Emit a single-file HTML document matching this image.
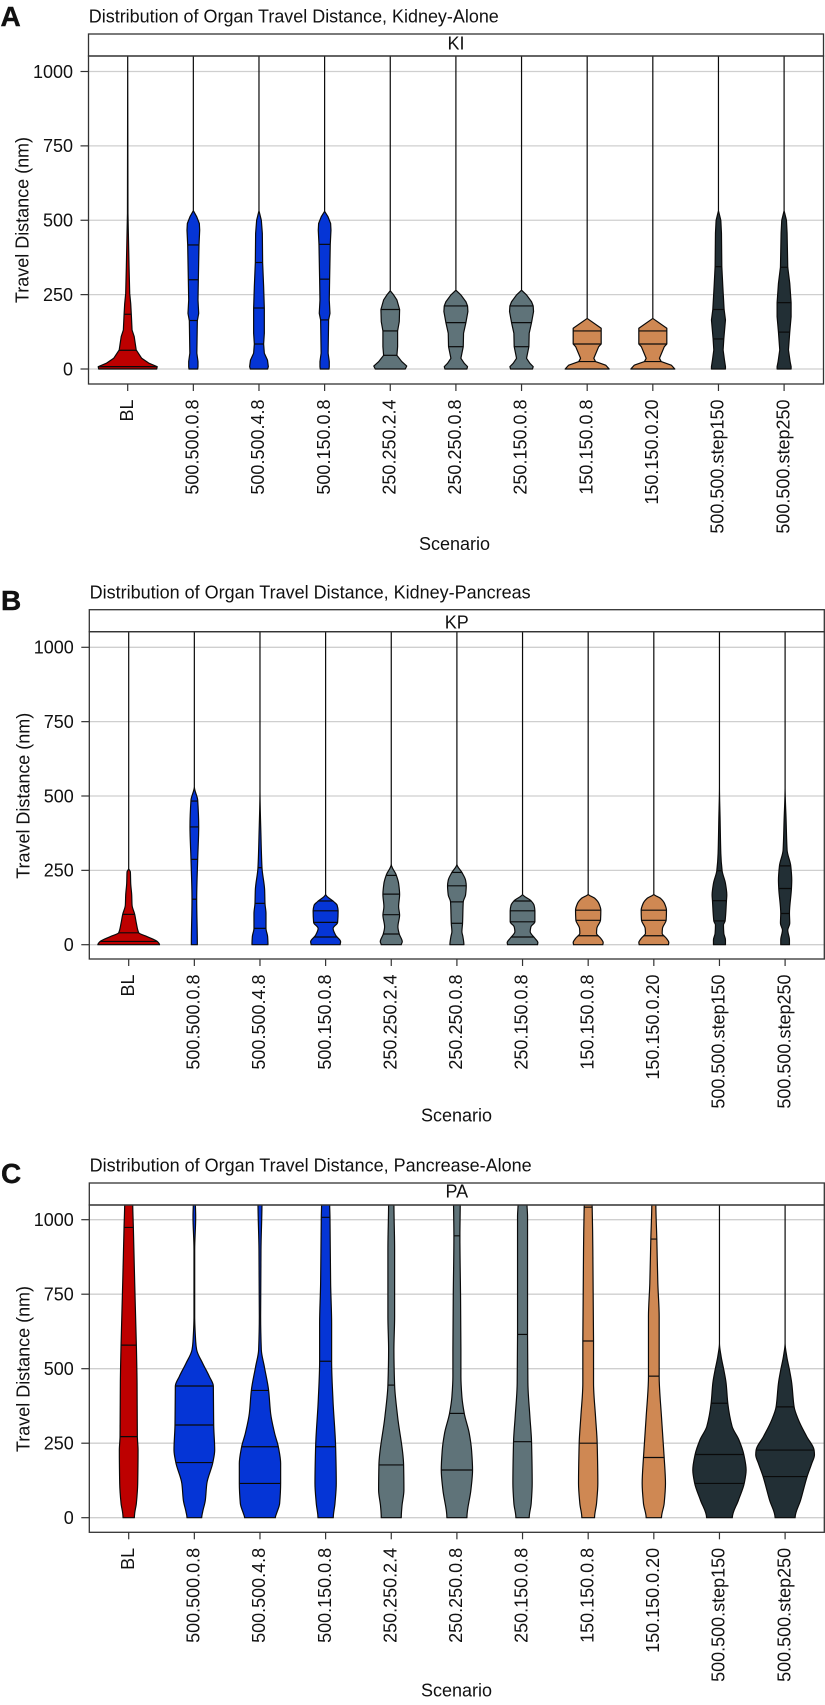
<!DOCTYPE html>
<html lang="en">
<head>
<meta charset="utf-8">
<title>Distribution of Organ Travel Distance</title>
<style>
html,body{margin:0;padding:0;background:#fff;}
svg{display:block;}
text{font-family:"Liberation Sans",Arial,sans-serif;fill:#111;}
</style>
</head>
<body>
<svg id="chart" width="825" height="1705" viewBox="0 0 825 1705" xmlns="http://www.w3.org/2000/svg"></svg>
<script>
const scenarios = ["BL","500.500.0.8","500.500.4.8","500.150.0.8","250.250.2.4","250.250.0.8","250.150.0.8","150.150.0.8","150.150.0.20","500.500.step150","500.500.step250"];
const yTicks = [0,250,500,750,1000];
const scenarioGroup = [0,1,1,1,2,2,2,3,3,4,4];
const groupColors = ["#bd0000","#0535d6","#5f7379","#cf8853","#222f35"];

const kiDistance = [
 [1060,523,344,254,220,181,131,109,64,36,19,8,0],
 [1060,532,512,489,467,417,299,232,187,162,53,25,8,0],
 [1060,532,500,456,358,277,204,120,84,53,30,8,0],
 [1060,530,512,489,467,419,302,232,187,165,53,25,8,0],
 [1060,263,249,232,200,159,128,75,46,25,10,0],
 [1060,265,249,226,212,193,156,120,75,36,19,8,0],
 [1060,265,249,226,212,193,156,120,75,36,19,8,0],
 [1060,170,137,128,84,75,36,25,13,0],
 [1060,170,137,128,84,75,36,25,13,0],
 [1060,532,500,456,344,277,200,165,101,64,30,8,0],
 [1060,532,500,456,342,288,223,176,124,64,25,8,0]
];
const kiDensity = [
 [0,0.5,2.7,4,6,7.3,8.7,13,17,28,43,59,58],
 [0,0,6.7,12,12.7,11.3,10,9.3,10.7,8,7,9.3,9.3,8.7],
 [0,0,4.7,6.7,7.3,9.3,10.7,10.7,9.3,10.7,17,18.7,17.3],
 [0,0,6.7,12,12.7,11.3,10,9.3,10.7,8,7,9.3,9.3,8.7],
 [0,0,6.7,13.3,18.7,18,14.7,14.7,13.3,23,33,30],
 [0,0,10,20,23.3,24,20,15.3,14.7,10,16.7,23.3,22],
 [0,0,10,20,23.3,24,20,15.3,14.7,10,16.7,23.3,22],
 [0,0,28,28,28,23,13.3,16.7,37,44],
 [0,0,28,28,28,23,13.3,16.7,37,44],
 [0,0,4.7,6,6.7,8.7,11.3,14,10.7,9.3,12,14,14],
 [0,0,4.7,6,7.3,11.3,14,14,11.3,8.7,12,14,14]
];
const kiQuartiles = [
 [184,63,8],[417,300,163],[358,205,84],[419,302,165],[200,128,46],[212,156,75],[212,156,75],[128,84,25],[128,84,25],[344,200,101],[342,223,124]
];

const kpDistance = [
 [1060,256,245,206,167,133,102,72,40,27,11,0],
 [1060,531,486,396,287,153,0],
 [1060,525,363,259,184,139,105,55,27,0],
 [1060,170,144,133,114,75,55,32,10,0],
 [1060,271,234,206,169,128,100,60,36,10,0],
 [1060,271,243,217,198,167,144,72,44,27,0],
 [1060,170,148,133,114,77,60,44,21,7,0],
 [1060,170,156,139,116,83,55,38,21,7,0],
 [1060,170,156,139,116,83,55,38,21,7,0],
 [1060,531,419,307,249,206,167,148,80,66,38,16,0],
 [1060,531,419,318,265,217,189,105,72,49,16,0]
];
const kpDensity = [
 [0,0,3.3,4,6,6.7,12,15.3,20,37,57,61.7],
 [0,0,6.7,8.7,6.7,4.7,6],
 [0,0,2,4,9.3,10,12,12,15.3,16],
 [0,0,16.7,23,25,24,15,20,30,29],
 [0,0,10,14.7,16.7,14.7,16.7,13.3,16,22,20],
 [0,0,10,17.3,18.7,17.3,12.7,11.3,10,12,14],
 [0,0,16.7,23,24.7,24.7,16.7,15.3,25,30.7,30],
 [0,0,13.3,21.3,25.3,24.7,17.3,16.7,25.3,30,29.3],
 [0,0,13.3,21.3,25.3,24.7,17.3,16.7,25.3,30,29.3],
 [0,0,1.3,2.7,5.3,12,14.7,14,11.3,8,8.7,12,12],
 [0,0,2,4,11.3,13.3,12.7,8.7,9.3,5.3,8.7,8.7]
];
const kpQuartiles = [
 [102,40,11],[483,396,287,153],[259,139,55],[147,114,75,26],[233,170,101,36],[243,198,144,72],[147,114,77,26],[116,82,30],[116,82,30],[249,148,80],[265,189,105]
];

const paDistance = [
 [1060,974,787,579,451,272,227,115,48,15,0],
 [1060,1010,899,675,591,563,518,474,442,311,227,185,115,59,20,0],
 [1060,899,675,563,507,427,350,283,238,182,115,48,15,0],
 [1060,1008,787,652,525,395,238,115,48,0],
 [1060,899,675,563,445,339,177,93,37,0],
 [1060,946,741,563,474,406,350,283,227,160,93,0],
 [1060,1010,787,615,451,339,255,115,48,0],
 [1060,1042,899,593,451,339,250,115,48,0],
 [1060,935,787,675,475,339,202,115,48,0],
 [1060,586,541,496,451,384,306,262,212,160,115,59,0],
 [1060,586,541,496,451,372,328,272,227,211,182,138,59,0]
];
const paDensity = [
 [8,9.3,12,15.3,16.7,17.3,18.7,18,15.3,12,11.3],
 [2,2.7,0.7,0.7,2.7,4.7,16.7,30,38,38.7,40.7,37,25,22,16.7,14.7],
 [4,2,1.3,2.7,8.7,17.3,21.3,29.3,36.7,41.3,41.3,39.3,33.3,30.7],
 [8,8.7,10,12,12,14.7,20,21.3,18.7,15.3],
 [5.3,6.7,6.7,5.3,6.7,12.7,24.7,25.3,21.3,20],
 [6.7,6,7.3,8,8,10,14.7,24.7,29.3,31.3,28,20],
 [8.7,10,10,10,10.7,14.7,18,19.3,17.3,13.3],
 [7.3,8,9.3,10.7,10.7,14.7,18,19.3,16.7,12.7],
 [4,6,8,10.7,10.7,15.3,20.7,23.3,20.7,15.3],
 [0,0,3.3,8.7,13.3,16.7,25.3,38.7,48.7,53.3,49.5,38,25.7],
 [0,0,3.3,8.7,13.3,18,26.7,43.3,58,58.7,53.3,44,31,20]
];
const paQuartiles = [
 [974,579,272],[442,311,185],[427,238,115],[1008,525,238],[445,177],[946,350,160],[615,255],[1042,593,250],[935,475,202],[384,212,115],[372,227,138]
];

const svg = document.getElementById('chart');
const NS = 'http://www.w3.org/2000/svg';

function make(tag, attrs, parent, text) {
  const e = document.createElementNS(NS, tag);
  for (const k in attrs) e.setAttribute(k, attrs[k]);
  if (text !== undefined) e.textContent = text;
  parent.appendChild(e);
  return e;
}

function densityAt(value, dist, dens) {
  for (let i = 0; i < dist.length - 1; i++) {
    if (value <= dist[i] && value >= dist[i + 1]) {
      const t = (dist[i] - value) / (dist[i] - dist[i + 1]);
      return dens[i] + t * (dens[i + 1] - dens[i]);
    }
  }
  return 0;
}

function sideCurve(pts, smooth) {
  const slope = i => {
    if (i <= 0 || i >= pts.length - 1) return 0;
    const a = (pts[i][0] - pts[i - 1][0]) / (pts[i][1] - pts[i - 1][1]);
    const b = (pts[i + 1][0] - pts[i][0]) / (pts[i + 1][1] - pts[i][1]);
    if (a * b <= 0) return 0;
    return 2 * a * b / (a + b);
  };
  let d = '';
  for (let i = 1; i < pts.length; i++) {
    const p1 = pts[i - 1], p2 = pts[i];
    if (!smooth) {
      d += ' L' + p2[0].toFixed(2) + ' ' + p2[1].toFixed(2);
      continue;
    }
    const h = (p2[1] - p1[1]) / 3;
    const c1x = p1[0] + slope(i - 1) * h, c1y = p1[1] + h;
    const c2x = p2[0] - slope(i) * h, c2y = p2[1] - h;
    d += ' C' + c1x.toFixed(2) + ' ' + c1y.toFixed(2) + ' ' + c2x.toFixed(2) + ' ' + c2y.toFixed(2) + ' ' + p2[0].toFixed(2) + ' ' + p2[1].toFixed(2);
  }
  return d;
}

function drawPanel(cfg, distance, density, quartiles) {
  const frameLeft = cfg.left, frameRight = cfg.right;
  const yScale = v => cfg.y0 - v * (cfg.y0 - cfg.y1000) / 1000;
  const xScale = i => cfg.x0 + i * cfg.step;
  const halfWidth = d => d / 2;

  const panel = make('g', {}, svg);
  
  

  const letter = make('text', {x: cfg.letterX, y: cfg.letterY, 'font-size': 28, 'font-weight': 'bold', stroke: '#111', 'stroke-width': 0.4}, panel, cfg.letter);
  
  

  const title = make('text', {x: cfg.left + 0.3, y: cfg.titleY, 'font-size': 18, textLength: cfg.titleLength, lengthAdjust: 'spacingAndGlyphs'}, panel, cfg.title);
  
  

  yTicks.forEach(t => {
    const y = yScale(t);
    const grid = make('line', {x1: frameLeft, x2: frameRight, y1: y, y2: y, stroke: '#cfcfcf', 'stroke-width': 1.3}, panel);
    
    
    const tick = make('line', {x1: frameLeft - 8, x2: frameLeft, y1: y, y2: y, stroke: '#333', 'stroke-width': 1.2}, panel);
    
    
    const lab = make('text', {x: frameLeft - 15.5, y: y + 6.3, 'font-size': 18, 'text-anchor': 'end'}, panel, String(t));
    
    
  });

  const clipId = 'clip-' + cfg.key;
  const defs = make('defs', {}, panel);
  const clip = make('clipPath', {id: clipId}, defs);
  make('rect', {x: frameLeft, y: cfg.stripBottom, width: frameRight - frameLeft, height: cfg.bottom - cfg.stripBottom}, clip);

  const marks = make('g', {'clip-path': 'url(#' + clipId + ')'}, panel);
  
  

  scenarios.forEach((name, i) => {
    const cx = xScale(i);
    const dist = distance[i], dens = density[i];
    const left = dist.map((v, j) => [cx - halfWidth(dens[j]), yScale(v)]);
    const right = dist.map((v, j) => [cx + halfWidth(dens[j]), yScale(v)]).reverse();
    const d = 'M' + left[0][0].toFixed(2) + ' ' + left[0][1].toFixed(2) + sideCurve(left, cfg.smooth) +
      ' L' + right[0][0].toFixed(2) + ' ' + right[0][1].toFixed(2) + sideCurve(right, cfg.smooth) + ' Z';
    const g = make('g', {}, marks);
    
    
    make('path', {d: d, fill: groupColors[scenarioGroup[i]], stroke: '#0a0a0a', 'stroke-width': 1.2, 'stroke-linejoin': 'round'}, g);
    quartiles[i].forEach(q => {
      const hw = halfWidth(densityAt(q, dist, dens));
      const ql = make('line', {x1: cx - hw, x2: cx + hw, y1: yScale(q), y2: yScale(q), stroke: '#0a0a0a', 'stroke-width': 1.2}, g);
      
      
    });

    const tick = make('line', {x1: cx, x2: cx, y1: cfg.bottom, y2: cfg.bottom + 7, stroke: '#333', 'stroke-width': 1.2}, panel);
    
    
    const ly = cfg.bottom + 15.5;
    const lab = make('text', {x: 0, y: 0, 'font-size': 18, 'text-anchor': 'end', transform: 'translate(' + (cx + 5.2) + ' ' + ly + ') rotate(-90)'}, panel, name);
    
    
  });

  const strip = make('rect', {x: frameLeft, y: cfg.top, width: frameRight - frameLeft, height: cfg.stripBottom - cfg.top, fill: '#fff', stroke: '#333', 'stroke-width': 1.3}, panel);
  
  
  const stripText = make('text', {x: (frameLeft + frameRight) / 2, y: cfg.stripBaseline, 'font-size': 18, 'text-anchor': 'middle'}, panel, cfg.key.toUpperCase());
  
  
  const frame = make('rect', {x: frameLeft, y: cfg.stripBottom, width: frameRight - frameLeft, height: cfg.bottom - cfg.stripBottom, fill: 'none', stroke: '#333', 'stroke-width': 1.3}, panel);
  
  

  const yTitle = make('text', {x: 0, y: 0, 'font-size': 18, 'text-anchor': 'middle', textLength: 166, lengthAdjust: 'spacingAndGlyphs', transform: 'translate(' + (frameLeft - 60) + ' ' + cfg.yTitleY + ') rotate(-90)'}, panel, 'Travel Distance (nm)');
  
  
  const xTitle = make('text', {x: cfg.xTitleX, y: cfg.xTitleY, 'font-size': 18, 'text-anchor': 'middle'}, panel, 'Scenario');
  
  
}

drawPanel({key:'ki', letter:'A', letterX:0.5, letterY:26, title:'Distribution of Organ Travel Distance, Kidney-Alone', titleLength:410, titleY:22.5, smooth:false, stripBaseline:49.3,
  left:88.5, right:823.5, top:34, stripBottom:56, bottom:384, y0:369, y1000:71.5, x0:127.7, step:65.64, yTitleY:220, xTitleX:454.5, xTitleY:550}, kiDistance, kiDensity, kiQuartiles);
drawPanel({key:'kp', letter:'B', letterX:1, letterY:610, title:'Distribution of Organ Travel Distance, Kidney-Pancreas', titleLength:441, titleY:598.3, smooth:true, stripBaseline:628.3,
  left:89.3, right:824.3, top:609.7, stripBottom:631.7, bottom:959, y0:944.7, y1000:647.3, x0:128.7, step:65.64, yTitleY:795.8, xTitleX:456.5, xTitleY:1121.7}, kpDistance, kpDensity, kpQuartiles);
drawPanel({key:'pa', letter:'C', letterX:1, letterY:1183, title:'Distribution of Organ Travel Distance, Pancrease-Alone', titleLength:442, titleY:1171.7, smooth:true, stripBaseline:1197.7,
  left:89.3, right:824.3, top:1183, stripBottom:1205, bottom:1532.3, y0:1517.7, y1000:1219.7, x0:128.7, step:65.64, yTitleY:1369, xTitleX:456.5, xTitleY:1696.5}, paDistance, paDensity, paQuartiles);
</script>
</body>
</html>
